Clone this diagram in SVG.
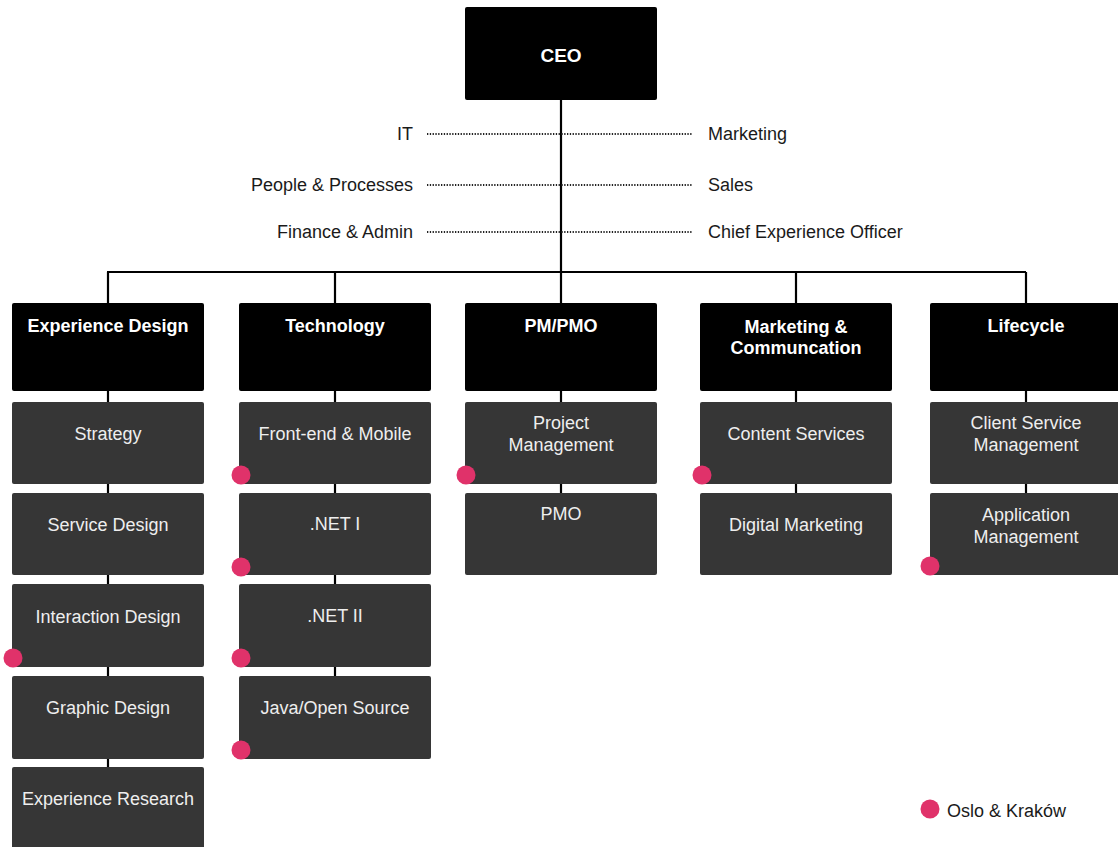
<svg xmlns="http://www.w3.org/2000/svg" width="1118" height="847" viewBox="0 0 1118 847">
  <style>
    .head { fill: #000000; }
    .unit { fill: #363636; }
    .ht { font-family: "Liberation Sans", Arial, sans-serif; font-weight: bold; font-size: 18px; fill: #ffffff; text-anchor: middle; }
    .ut { font-family: "Liberation Sans", Arial, sans-serif; font-size: 18px; fill: #eeeeee; text-anchor: middle; }
    .lbl { font-family: "Liberation Sans", Arial, sans-serif; font-size: 18px; fill: #1a1a1a; }
    .line { stroke: #000000; stroke-width: 2.2; fill: none; }
    .dots { stroke: #222222; stroke-width: 2; stroke-dasharray: 1.3 1.5; fill: none; }
    .loc { fill: #e0326a; }
  </style>
  <rect width="1118" height="847" fill="#ffffff"/>

  <!-- reporting lines -->
  <g id="connectors">
    <line class="line" x1="561" y1="100" x2="561" y2="493"/>
    <line class="line" x1="107" y1="272" x2="1026" y2="272"/>
    <line class="line" x1="108" y1="272" x2="108" y2="847"/>
    <line class="line" x1="335" y1="272" x2="335" y2="676"/>
    <line class="line" x1="796" y1="272" x2="796" y2="493"/>
    <line class="line" x1="1026" y1="272" x2="1026" y2="493"/>
    <line class="dots" x1="427" y1="134" x2="693" y2="134"/>
    <line class="dots" x1="427" y1="185" x2="693" y2="185"/>
    <line class="dots" x1="427" y1="232" x2="693" y2="232"/>
  </g>

  <g id="ceo">
    <rect class="head" x="465" y="7" width="192" height="93" rx="2"/>
    <text class="ht" x="561" y="62" style="font-size:19px">CEO</text>
  </g>

  <g id="staff-functions">
    <text class="lbl" x="413" y="140" text-anchor="end">IT</text>
    <text class="lbl" x="413" y="191" text-anchor="end">People &amp; Processes</text>
    <text class="lbl" x="413" y="238" text-anchor="end">Finance &amp; Admin</text>
    <text class="lbl" x="708" y="140">Marketing</text>
    <text class="lbl" x="708" y="191">Sales</text>
    <text class="lbl" x="708" y="238">Chief Experience Officer</text>
  </g>

  <!-- Experience Design -->
  <g id="experience-design">
    <rect class="head" x="12" y="303" width="192" height="88" rx="2"/>
    <text class="ht" x="108" y="332">Experience Design</text>
  </g>
  <g id="strategy">
    <rect class="unit" x="12" y="402" width="192" height="82" rx="2"/>
    <text class="ut" x="108" y="440">Strategy</text>
  </g>
  <g id="service-design">
    <rect class="unit" x="12" y="493" width="192" height="82" rx="2"/>
    <text class="ut" x="108" y="531">Service Design</text>
  </g>
  <g id="interaction-design">
    <rect class="unit" x="12" y="584" width="192" height="83" rx="2"/>
    <text class="ut" x="108" y="623">Interaction Design</text>
    <circle class="loc" cx="13" cy="658" r="9.5"/>
  </g>
  <g id="graphic-design">
    <rect class="unit" x="12" y="676" width="192" height="83" rx="2"/>
    <text class="ut" x="108" y="714">Graphic Design</text>
  </g>
  <g id="experience-research">
    <rect class="unit" x="12" y="767" width="192" height="90" rx="2"/>
    <text class="ut" x="108" y="805">Experience Research</text>
  </g>

  <!-- Technology -->
  <g id="technology">
    <rect class="head" x="239" y="303" width="192" height="88" rx="2"/>
    <text class="ht" x="335" y="332">Technology</text>
  </g>
  <g id="front-end-mobile">
    <rect class="unit" x="239" y="402" width="192" height="82" rx="2"/>
    <text class="ut" x="335" y="440">Front-end &amp; Mobile</text>
    <circle class="loc" cx="241" cy="475" r="9.5"/>
  </g>
  <g id="dotnet-1">
    <rect class="unit" x="239" y="493" width="192" height="82" rx="2"/>
    <text class="ut" x="335" y="530">.NET I</text>
    <circle class="loc" cx="241" cy="567" r="9.5"/>
  </g>
  <g id="dotnet-2">
    <rect class="unit" x="239" y="584" width="192" height="83" rx="2"/>
    <text class="ut" x="335" y="622">.NET II</text>
    <circle class="loc" cx="241" cy="658" r="9.5"/>
  </g>
  <g id="java-open-source">
    <rect class="unit" x="239" y="676" width="192" height="83" rx="2"/>
    <text class="ut" x="335" y="714">Java/Open Source</text>
    <circle class="loc" cx="241" cy="750" r="9.5"/>
  </g>

  <!-- PM/PMO -->
  <g id="pm-pmo">
    <rect class="head" x="465" y="303" width="192" height="88" rx="2"/>
    <text class="ht" x="561" y="332">PM/PMO</text>
  </g>
  <g id="project-management">
    <rect class="unit" x="465" y="402" width="192" height="82" rx="2"/>
    <text class="ut" x="561" y="429">Project</text>
    <text class="ut" x="561" y="451">Management</text>
    <circle class="loc" cx="466" cy="475" r="9.5"/>
  </g>
  <g id="pmo">
    <rect class="unit" x="465" y="493" width="192" height="82" rx="2"/>
    <text class="ut" x="561" y="520">PMO</text>
  </g>

  <!-- Marketing & Communcation -->
  <g id="marketing-communcation">
    <rect class="head" x="700" y="303" width="192" height="88" rx="2"/>
    <text class="ht" x="796" y="333">Marketing &amp;</text>
    <text class="ht" x="796" y="354">Communcation</text>
  </g>
  <g id="content-services">
    <rect class="unit" x="700" y="402" width="192" height="82" rx="2"/>
    <text class="ut" x="796" y="440">Content Services</text>
    <circle class="loc" cx="702" cy="475" r="9.5"/>
  </g>
  <g id="digital-marketing">
    <rect class="unit" x="700" y="493" width="192" height="82" rx="2"/>
    <text class="ut" x="796" y="531">Digital Marketing</text>
  </g>

  <!-- Lifecycle -->
  <g id="lifecycle">
    <rect class="head" x="930" y="303" width="192" height="88" rx="2"/>
    <text class="ht" x="1026" y="332">Lifecycle</text>
  </g>
  <g id="client-service-management">
    <rect class="unit" x="930" y="402" width="192" height="82" rx="2"/>
    <text class="ut" x="1026" y="429">Client Service</text>
    <text class="ut" x="1026" y="451">Management</text>
  </g>
  <g id="application-management">
    <rect class="unit" x="930" y="493" width="192" height="82" rx="2"/>
    <text class="ut" x="1026" y="521">Application</text>
    <text class="ut" x="1026" y="543">Management</text>
    <circle class="loc" cx="930" cy="566" r="9.5"/>
  </g>

  <!-- legend -->
  <g id="legend">
    <circle class="loc" cx="930" cy="809" r="9.5"/>
    <text class="lbl" x="947" y="817">Oslo &amp; Kraków</text>
  </g>
</svg>
